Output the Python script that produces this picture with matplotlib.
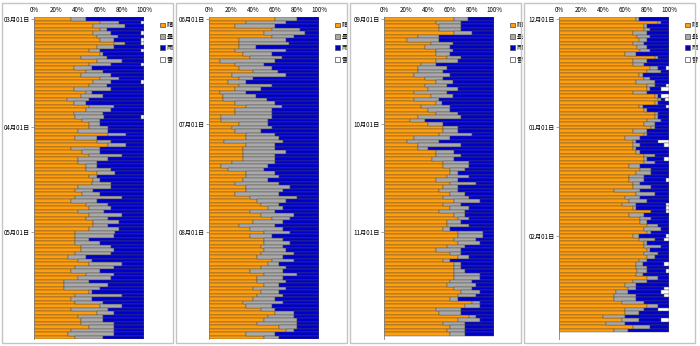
import matplotlib
matplotlib.use("Agg")
import matplotlib.pyplot as plt
from matplotlib.patches import Rectangle
import numpy as np

plt.rcParams["font.family"] = ["Noto Sans CJK JP", "DejaVu Sans"]

# ─── données (pourcentages) ─────────────────────────────────────────────────
LEGEND_LABELS = ["晴", "曇", "雨", "雪"]
X_TICKS = [0, 20, 40, 60, 80, 100]
X_TICK_LABELS = ["0%", "20%", "40%", "60%", "80%", "100%"]

SPRING_DATES = ["03月01日", "04月01日", "05月01日"]
SPRING_DATE_POS = [0, 31, 61]
SPRING_SUN = [34, 60, 54, 60, 54, 57, 60, 73, 57, 50, 60, 43, 57, 50, 36, 47, 43, 60, 54, 50,
              36, 47, 43, 30, 36, 50, 47, 36,
              37, 44, 50, 50, 40, 67, 37, 57, 67, 34, 44, 50, 40, 40, 47, 47, 57, 50, 54, 53,
              40, 37, 44, 37, 34, 47, 50, 40, 50, 47, 54, 54, 50, 37,
              37, 37, 37, 43, 43, 37, 31, 40, 50, 37, 34, 47, 40, 27, 27, 27, 50, 37, 34, 37,
              60, 34, 57, 40, 43, 43, 50, 34, 31, 37]
SPRING_CLOUD = [13, 17, 29, 6, 16, 19, 13, 10, 16, 10, 3, 23, 23, 20, 17, 16, 27, 17, 16, 16,
                34, 6, 20, 20, 11, 23, 23, 27,
                27, 16, 10, 17, 27, 17, 20, 13, 17, 26, 16, 30, 27, 17, 10, 23, 17, 7, 6, 17,
                30, 17, 16, 43, 23, 20, 20, 24, 30, 20, 23, 13, 27, 37,
                36, 13, 23, 27, 30, 33, 16, 13, 30, 36, 26, 26, 30, 23, 40, 33, 3, 43, 19, 26,
                20, 33, 16, 23, 20, 30, 23, 39, 42, 26]
SPRING_SNOW = [0, 3, 0, 0, 3, 0, 3, 3, 0, 3, 0, 0, 0, 3, 0, 0, 0, 0, 3, 0,
               0, 0, 0, 0, 0, 0, 0, 0,
               3, 0, 0, 0, 0, 0, 0, 0, 0, 0, 0, 0, 0, 0, 0, 0, 0, 0, 0, 0,
               0, 0, 0, 0, 0, 0, 0, 0, 0, 0, 0, 0, 0, 0,
               0, 0, 0, 0, 0, 0, 0, 0, 0, 0, 0, 0, 0, 0, 0, 0, 0, 0, 0, 0,
               0, 0, 0, 0, 0, 0, 0, 0, 0, 0]

SUMMER_DATES = ["06月01日", "07月01日", "08月01日"]
SUMMER_DATE_POS = [0, 30, 61]
SUMMER_SUN = [60, 34, 24, 57, 50, 57, 27, 27, 27, 24, 31, 37, 10, 24, 27, 40, 21, 27, 17, 27,
              24, 10, 13, 13, 24, 34, 24, 24,
              11, 11, 27, 21, 24, 34, 34, 14, 34, 31, 31, 31, 31, 21, 11, 17, 34, 34, 31, 24,
              34, 34, 24, 37, 44, 47, 54, 37, 47, 57, 40, 27, 37, 50,
              37, 50, 50, 47, 50, 47, 44, 57, 54, 47, 37, 50, 44, 44, 50, 40, 47, 44, 40, 31,
              34, 47, 60, 54, 50, 44, 64, 70, 34, 50]
SUMMER_CLOUD = [20, 36, 36, 26, 37, 20, 43, 46, 16, 46, 26, 29, 50, 26, 30, 23, 49, 13, 17, 30,
                23, 24, 30, 40, 36, 32, 33, 33,
                46, 43, 27, 36, 23, 26, 30, 53, 26, 29, 39, 29, 29, 39, 43, 33, 26, 30, 23, 40,
                40, 33, 40, 43, 26, 17, 13, 23, 30, 17, 27, 33, 30, 24,
                20, 17, 24, 20, 20, 30, 23, 20, 10, 23, 30, 30, 23, 26, 14, 30, 17, 23, 20, 36,
                23, 13, 17, 23, 30, 36, 16, 7, 26, 14]
SUMMER_SNOW = [0] * 92

AUTUMN_DATES = ["09月01日", "10月01日", "11月01日"]
AUTUMN_DATE_POS = [0, 30, 61]
AUTUMN_SUN = [64, 47, 50, 50, 64, 31, 21, 43, 37, 47, 47, 57, 47, 34, 31, 31, 27, 37, 47, 37,
              40, 27, 43, 27, 47, 34, 40, 47,
              31, 24, 40, 54, 54, 50, 27, 21, 31, 31, 47, 47, 44, 54, 54, 60, 60, 57, 47, 60,
              54, 50, 60, 54, 64, 54, 60, 50, 64, 67, 57, 57, 54, 67,
              67, 64, 67, 57, 47, 60, 67, 54, 64, 64, 64, 64, 64, 60, 57, 64, 70, 67, 60, 80,
              74, 47, 50, 77, 67, 54, 60, 57, 60]
AUTUMN_CLOUD = [12, 23, 20, 20, 16, 19, 29, 20, 23, 16, 13, 13, 20, 13, 26, 23, 33, 17, 16, 20,
                27, 30, 20, 23, 6, 26, 20, 20,
                39, 13, 14, 13, 13, 30, 33, 29, 39, 9, 17, 23, 20, 23, 23, 14, 7, 20, 20, 24,
                13, 17, 14, 23, 23, 16, 17, 24, 10, 10, 13, 20, 6, 23,
                23, 20, 20, 17, 23, 10, 10, 6, 6, 6, 10, 23, 23, 20, 27, 16, 17, 17, 7, 7,
                13, 23, 20, 7, 20, 20, 14, 17, 14]
AUTUMN_SNOW = [0] * 91

WINTER_DATES = ["12月01日", "01月01日", "02月01日"]
WINTER_DATE_POS = [0, 31, 62]
WINTER_SUN = [70, 90, 77, 77, 67, 71, 73, 67, 71, 74, 60, 87, 67, 67, 83, 80, 73, 77, 70, 80,
              80, 67, 87, 90, 87, 73, 77, 87,
              87, 80, 77, 84, 67, 77, 60, 67, 67, 67, 70, 77, 77, 77, 64, 74, 70, 64, 64, 67,
              67, 50, 70, 60, 64, 57, 67, 84, 64, 74, 74, 80, 77, 80,
              67, 73, 77, 77, 80, 77, 80, 73, 70, 70, 71, 70, 80, 67, 60, 63, 52, 50, 50, 57,
              80, 60, 60, 40, 57, 43, 67, 50]
WINTER_CLOUD = [3, 3, 3, 6, 13, 12, 7, 10, 9, 9, 10, 3, 13, 10, 7, 13, 3, 6, 17, 7,
                3, 13, 3, 3, 3, 3, 3, 3,
                3, 13, 10, 3, 13, 3, 14, 3, 7, 3, 4, 10, 3, 10, 10, 10, 14, 13, 13, 7,
                17, 24, 17, 14, 16, 13, 3, 0, 13, 10, 6, 10, 16, 4,
                6, 14, 3, 16, 3, 13, 7, 7, 6, 10, 9, 6, 10, 13, 10, 7, 11, 20, 20, 20,
                10, 17, 13, 20, 16, 17, 16, 13]
WINTER_SNOW = [0, 0, 0, 0, 0, 0, 0, 0, 0, 0, 0, 0, 0, 0, 3, 0, 0, 0, 0, 3,
               7, 0, 7, 4, 0, 3, 0, 0,
               0, 0, 0, 0, 0, 0, 0, 10, 5, 0, 0, 0, 5, 0, 0, 0, 0, 0, 3, 0,
               0, 0, 0, 0, 0, 3, 3, 3, 0, 0, 0, 0, 0, 0,
               3, 5, 0, 0, 0, 0, 0, 0, 5, 0, 3, 0, 0, 0, 0, 5, 7, 5, 0, 0,
               0, 10, 0, 0, 7, 0, 0, 0]

PANELS = [
    (SPRING_SUN, SPRING_CLOUD, SPRING_SNOW, SPRING_DATES, SPRING_DATE_POS),
    (SUMMER_SUN, SUMMER_CLOUD, SUMMER_SNOW, SUMMER_DATES, SUMMER_DATE_POS),
    (AUTUMN_SUN, AUTUMN_CLOUD, AUTUMN_SNOW, AUTUMN_DATES, AUTUMN_DATE_POS),
    (WINTER_SUN, WINTER_CLOUD, WINTER_SNOW, WINTER_DATES, WINTER_DATE_POS),
]

# ─── style ──────────────────────────────────────────────────────────────────
COLORS = ["#ff9d0a", "#a9a9a9", "#0000cc", "#ffffff"]
EDGE = "#4a4a4a"
W, H = 700, 346
FRAME_X = [2, 176, 350, 524]      # cadres gris des 4 panneaux (px)
AX_X = [34, 209, 384, 559]        # bord gauche des zones de tracé (px)
AX_W, AX_TOP, AX_H = 110, 17, 322
N_SLOTS = 92

fig = plt.figure(figsize=(W / 100, H / 100), dpi=100)
fig.patch.set_facecolor("white")

for k, (sun, cloud, snow, dates, date_pos) in enumerate(PANELS):
    fig.add_artist(Rectangle((FRAME_X[k] / W, 3 / H), 171 / W, 340 / H,
                             transform=fig.transFigure, fill=False,
                             edgecolor="#c4c4c4", linewidth=1.0))

    ax = fig.add_axes([AX_X[k] / W, 1 - (AX_TOP + AX_H) / H, AX_W / W, AX_H / H])
    sun = np.array(sun, float)
    cloud = np.array(cloud, float)
    snow = np.array(snow, float)
    rain = 100 - sun - cloud - snow
    y = np.arange(len(sun))

    left = np.zeros(len(sun))
    for vals, col in zip([sun, cloud, rain, snow], COLORS):
        ax.barh(y, vals, left=left, height=1.0, color=col,
                edgecolor=EDGE, linewidth=0.3)
        left += vals

    ax.set_xlim(0, 100)
    ax.set_ylim(N_SLOTS - 0.5, -0.5)
    for side in ["top", "right", "bottom"]:
        ax.spines[side].set_visible(False)
    ax.spines["left"].set_color("#808080")
    ax.spines["left"].set_linewidth(0.6)

    ax.xaxis.tick_top()
    ax.set_xticks(X_TICKS)
    ax.set_xticklabels(X_TICK_LABELS)
    ax.tick_params(axis="x", length=0, pad=2.5, labelsize=4.5)
    ax.set_yticks(date_pos)
    ax.set_yticklabels(dates)
    ax.tick_params(axis="y", length=2, width=0.5, color="#808080",
                   pad=1, labelsize=4.5)

    handles = [Rectangle((0, 0), 1, 1, facecolor=c, edgecolor=EDGE, linewidth=0.5)
               for c in COLORS]
    ax.legend(handles, LEGEND_LABELS, loc="upper left", bbox_to_anchor=(1.12, 0.995),
              frameon=False, fontsize=4.5, handlelength=0.8, handleheight=0.8,
              handletextpad=0.25, labelspacing=0.55, borderaxespad=0)

fig.savefig("out.png", dpi=100, facecolor="white")
